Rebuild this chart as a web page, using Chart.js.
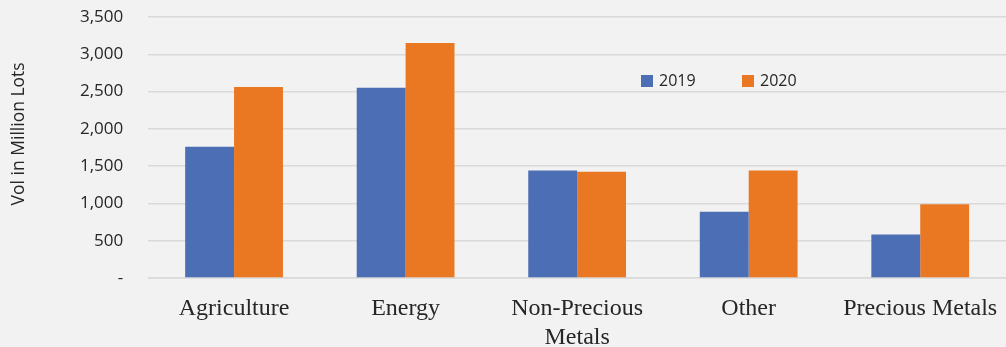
<!DOCTYPE html>
<html>
<head>
<meta charset="utf-8">
<script src="https://cdn.jsdelivr.net/npm/chart.js@4.4.1/dist/chart.umd.min.js"></script>
<style>
  html, body { margin: 0; padding: 0; background: #f2f2f2; }
  #wrap { width: 1006px; height: 347px; }
</style>
</head>
<body>
<div id="wrap"><canvas id="c" width="1006" height="347"></canvas></div>
<script>
// Trading volume by commodity sector (million lots)
const categories = ['Agriculture', 'Energy', ['Non-Precious', 'Metals'], 'Other', 'Precious Metals'];
const vol2019 = [1760, 2550, 1440, 890, 585];
const vol2020 = [2560, 3150, 1425, 1440, 990];
const seriesLabels = ['2019', '2020'];
const yTicks = [0, 500, 1000, 1500, 2000, 2500, 3000, 3500];

const BLUE = '#4b6eb5';
const ORANGE = '#ea7823';

// Legend drawn inside the plot area, to the right of the middle group
const innerLegend = {
  id: 'innerLegend',
  afterDraw(chart) {
    const ctx = chart.ctx;
    const xs = [641, 742];
    ctx.save();
    ctx.font = '16px "Open Sans", sans-serif';
    ctx.textBaseline = 'middle';
    chart.data.datasets.forEach((ds, i) => {
      ctx.fillStyle = ds.backgroundColor;
      ctx.fillRect(xs[i], 75, 12, 12);
      ctx.fillStyle = '#262626';
      ctx.fillText(ds.label, xs[i] + 18, 81);
    });
    ctx.restore();
  }
};

new Chart(document.getElementById('c'), {
  type: 'bar',
  data: {
    labels: categories,
    datasets: [
      { label: seriesLabels[0], data: vol2019, backgroundColor: BLUE },
      { label: seriesLabels[1], data: vol2020, backgroundColor: ORANGE }
    ]
  },
  options: {
    responsive: false,
    animation: false,
    datasets: {
      bar: { categoryPercentage: 0.57, barPercentage: 1.0 }
    },
    layout: { padding: { left: 9, right: 0, top: 17, bottom: 0 } },
    plugins: {
      legend: { display: false },
      tooltip: { enabled: false }
    },
    scales: {
      x: {
        grid: { display: true, color: 'rgba(0,0,0,0)', drawTicks: true, tickLength: 16, tickColor: 'rgba(0,0,0,0)' },
        border: { color: '#d9d9d9', width: 1.5 },
        ticks: {
          color: '#262626',
          font: { family: '"Liberation Serif", serif', size: 24, lineHeight: '29px' },
          padding: 0,
          maxRotation: 0,
          autoSkip: false
        },
        afterFit(scale) { scale.height = 69; }
      },
      y: {
        min: 0,
        max: 3500,
        afterBuildTicks(axis) { axis.ticks = yTicks.map(v => ({ value: v })); },
        grid: { color: '#d9d9d9', lineWidth: 1.5, drawTicks: true, tickLength: 25, tickColor: 'rgba(0,0,0,0)' },
        border: { display: false },
        ticks: {
          color: '#262626',
          font: { family: '"Open Sans", sans-serif', size: 17 },
          padding: 0,
          callback: v => v === 0 ? '-' : v.toLocaleString('en-US')
        },
        title: {
          display: true,
          // leading spaces lift the rotated title a little above the axis centre
          text: '      Vol in Million Lots',
          color: '#262626',
          font: { family: '"Open Sans", sans-serif', size: 17.5 },
          padding: { top: 0, bottom: 50 }
        }
      }
    }
  },
  plugins: [innerLegend]
});
</script>
</body>
</html>
